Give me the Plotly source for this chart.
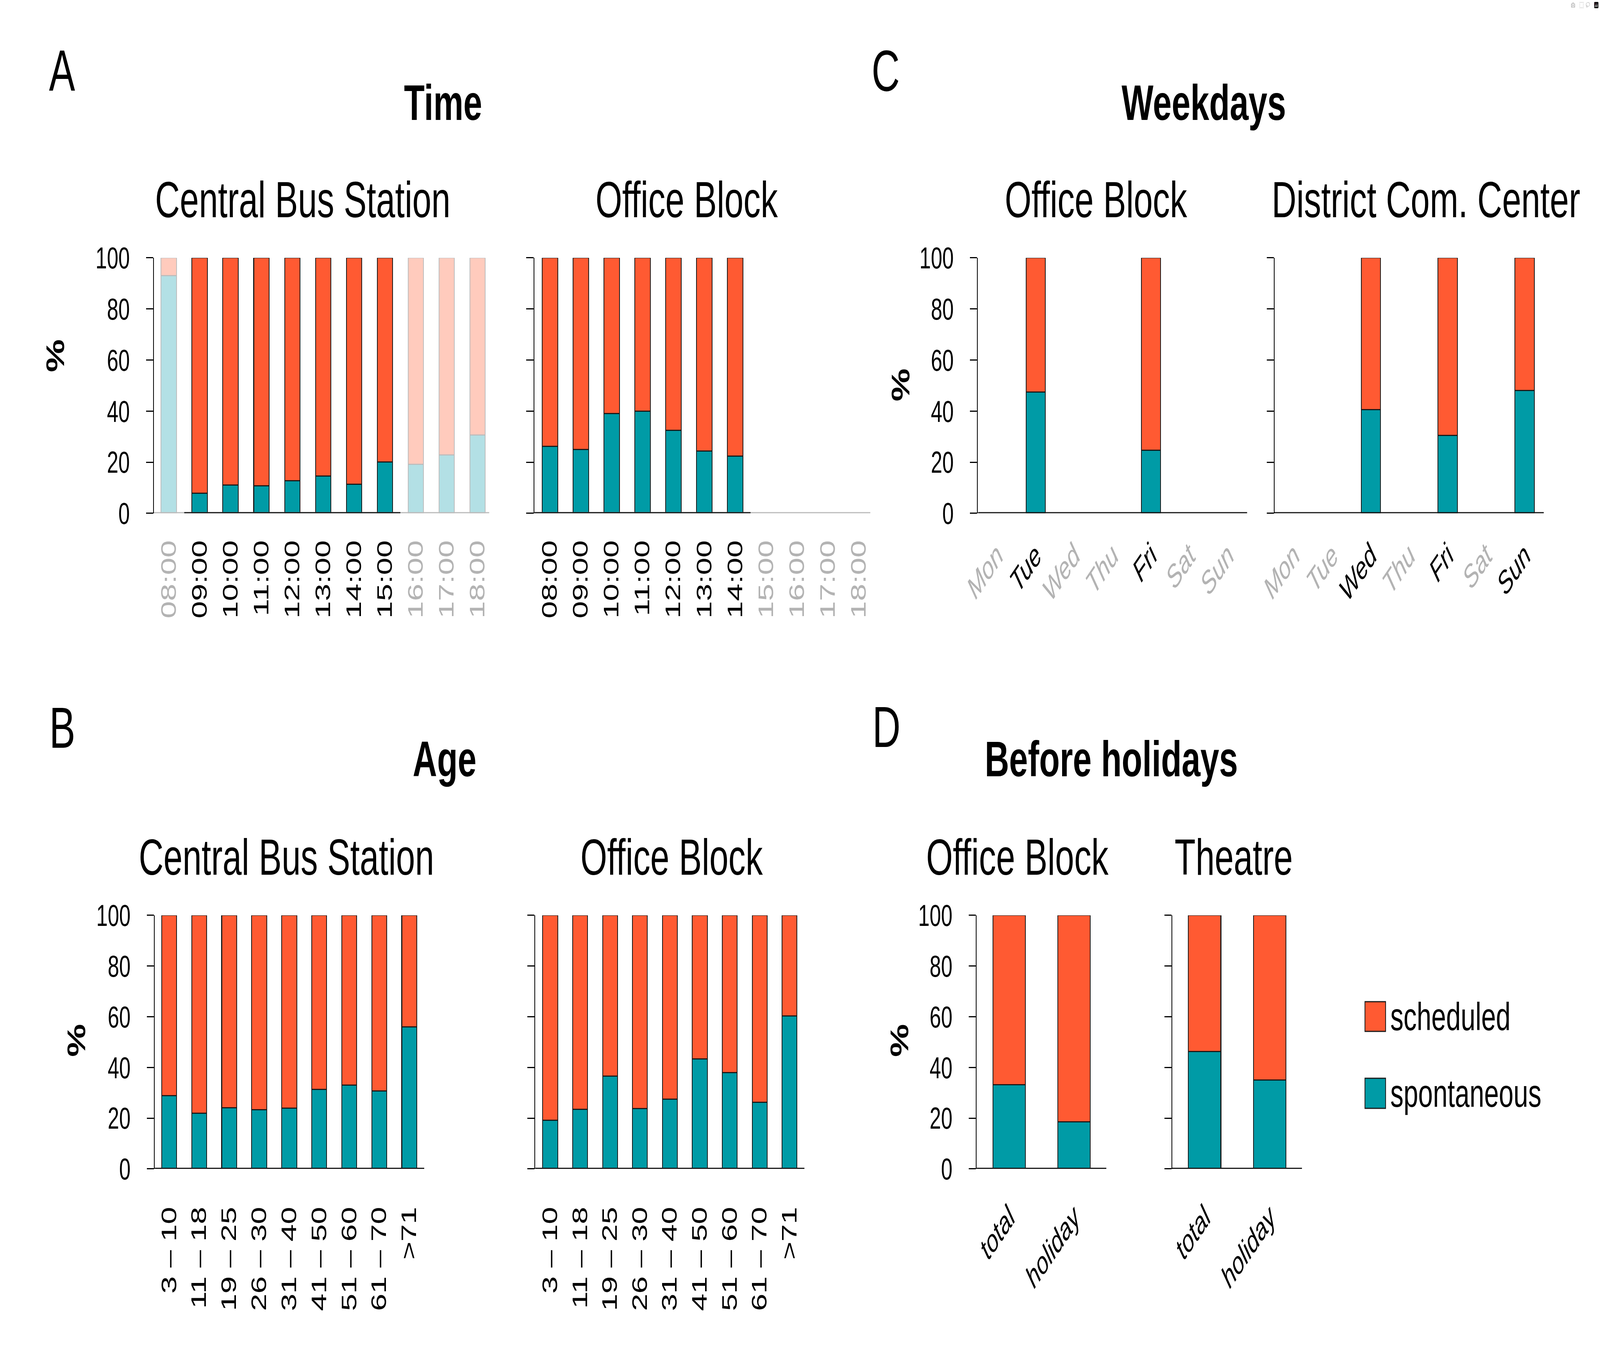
import plotly.graph_objects as go

W, H = 6067, 3453

# ---------------- data ----------------
TIME_LABELS = ["08:00", "09:00", "10:00", "11:00", "12:00", "13:00",
               "14:00", "15:00", "16:00", "17:00", "18:00"]
TIME_CBS_SPONT = [93.0, 7.8, 11.1, 10.7, 12.8, 14.5, 11.3, 20.1, 19.2, 22.8, 30.6]
TIME_CBS_ACTIVE = [False, True, True, True, True, True, True, True, False, False, False]
TIME_OB_SPONT = [26.2, 24.9, 39.0, 40.0, 32.4, 24.3, 22.3, None, None, None, None]
TIME_OB_ACTIVE = [True, True, True, True, True, True, True, False, False, False, False]

DAY_LABELS = ["Mon", "Tue", "Wed", "Thu", "Fri", "Sat", "Sun"]
DAY_OB_SPONT = [None, 47.4, None, None, 24.6, None, None]
DAY_DCC_SPONT = [None, None, 40.6, None, 30.5, None, 48.0]

AGE_LABELS = ["3 – 10", "11 – 18", "19 – 25", "26 – 30", "31 – 40",
              "41 – 50", "51 – 60", "61 – 70", ">71"]
AGE_CBS_SPONT = [28.8, 22.0, 24.1, 23.3, 23.9, 31.4, 33.1, 30.8, 56.0]
AGE_OB_SPONT = [19.1, 23.5, 36.6, 23.8, 27.5, 43.3, 37.9, 26.2, 60.3]

HOL_LABELS = ["total", "holiday"]
HOL_OB_SPONT = [33.2, 18.5]
HOL_TH_SPONT = [46.3, 35.0]

Y_TICKS = [0, 20, 40, 60, 80, 100]
SERIES_NAMES = ["scheduled", "spontaneous"]

# ---------------- style ----------------
ORANGE = "#FF5A32"
TEAL = "#009BA6"
ORANGE_FADED = "#FFCBBD"
TEAL_FADED = "#B3E0E5"
OUTLINE = "#1A1A1A"
OUTLINE_FADED = "#BDBDBD"
GRAY_TEXT = "#B3B3B3"
FONT = "Liberation Sans, Arial, Helvetica, sans-serif"

ROW1 = (632, 1303)   # pixel y of 100 and 0
ROW2 = (2359, 3025)


def active_from(values):
    return [v is not None for v in values]


panels = [
    dict(title="Central Bus Station", labels=TIME_LABELS, spont=TIME_CBS_SPONT,
         active=TIME_CBS_ACTIVE, xpx=(530, 1814), rng=(-0.48, 10.38), row=ROW1,
         tcx=1100, ylabels=True, angle=-90, italic=False, standoff=52, gray_base=True),
    dict(title="Office Block", labels=TIME_LABELS, spont=TIME_OB_SPONT,
         active=TIME_OB_ACTIVE, xpx=(1986, 3273), rng=(-0.51, 10.38), row=ROW1,
         tcx=2570, ylabels=False, angle=-90, italic=False, standoff=52, gray_base=True),
    dict(title="Office Block", labels=DAY_LABELS, spont=DAY_OB_SPONT,
         active=active_from(DAY_OB_SPONT), xpx=(3685, 4716), rng=(-0.5, 6.5), row=ROW1,
         tcx=4137, ylabels=True, angle=-45, italic=True, standoff=44, gray_base=False),
    dict(title="District Com. Center", labels=DAY_LABELS, spont=DAY_DCC_SPONT,
         active=active_from(DAY_DCC_SPONT), xpx=(4821, 5852), rng=(-0.5, 6.5), row=ROW1,
         tcx=5401, ylabels=False, angle=-45, italic=True, standoff=44, gray_base=False),
    dict(title="Central Bus Station", labels=AGE_LABELS, spont=AGE_CBS_SPONT,
         active=active_from(AGE_CBS_SPONT), xpx=(533, 1565), rng=(-0.48, 8.5), row=ROW2,
         tcx=1037, ylabels=True, angle=-90, italic=False, standoff=80, gray_base=False),
    dict(title="Office Block", labels=AGE_LABELS, spont=AGE_OB_SPONT,
         active=active_from(AGE_OB_SPONT), xpx=(1990, 3021), rng=(-0.5, 8.5), row=ROW2,
         tcx=2512, ylabels=False, angle=-90, italic=False, standoff=80, gray_base=False),
    dict(title="Office Block", labels=HOL_LABELS, spont=HOL_OB_SPONT,
         active=active_from(HOL_OB_SPONT), xpx=(3680, 4177), rng=(-0.5, 1.5), row=ROW2,
         tcx=3836, ylabels=True, angle=-45, italic=True, standoff=60, gray_base=False),
    dict(title="Theatre", labels=HOL_LABELS, spont=HOL_TH_SPONT,
         active=active_from(HOL_TH_SPONT), xpx=(4429, 4926), rng=(-0.5, 1.5), row=ROW2,
         tcx=4664, ylabels=False, angle=-45, italic=True, standoff=60, gray_base=False),
]


def px_x(x):
    return x / W


def px_y(y):
    return 1 - y / H


fig = go.Figure()
shapes = []
annotations = []

for i, p in enumerate(panels, start=1):
    xa = "x" if i == 1 else f"x{i}"
    ya = "y" if i == 1 else f"y{i}"
    labels = p["labels"]
    spont = p["spont"]
    sched = [None if v is None else round(100 - v, 1) for v in spont]
    act = p["active"]

    fig.add_trace(go.Bar(
        x=labels, y=spont, xaxis=xa, yaxis=ya, width=0.5, name=SERIES_NAMES[1],
        showlegend=False,
        marker=dict(color=[TEAL if a else TEAL_FADED for a in act],
                    line=dict(color=[OUTLINE if a else OUTLINE_FADED for a in act], width=3)),
    ))
    fig.add_trace(go.Bar(
        x=labels, y=sched, xaxis=xa, yaxis=ya, width=0.5, name=SERIES_NAMES[0],
        showlegend=False,
        marker=dict(color=[ORANGE if a else ORANGE_FADED for a in act],
                    line=dict(color=[OUTLINE if a else OUTLINE_FADED for a in act], width=3)),
    ))

    ticktext = []
    for lab, a in zip(labels, act):
        t = lab if not p["italic"] else f"<i>{lab}</i>"
        col = "#000000" if a else GRAY_TEXT
        if p["gray_base"] or p["italic"]:
            t = f"<span style='color:{col}'>{t}</span>"
        ticktext.append(t)

    y0px, y1px = p["row"][1], p["row"][0]
    fig.update_layout(**{
        ("xaxis" if i == 1 else f"xaxis{i}"): dict(
            domain=[px_x(p["xpx"][0]), px_x(p["xpx"][1])], anchor=ya,
            type="category", categoryorder="array", categoryarray=labels,
            range=list(p["rng"]), tickvals=labels, ticktext=ticktext,
            tickangle=p["angle"], ticks="", ticklen=0, showline=False,
            showgrid=False, zeroline=False, ticklabelstandoff=p["standoff"],
            tickfont=dict(family=FONT, size=80, color="#000000"), fixedrange=True),
        ("yaxis" if i == 1 else f"yaxis{i}"): dict(
            domain=[px_y(y0px), px_y(y1px)], anchor=xa, range=[0, 100],
            tickvals=Y_TICKS, showticklabels=p["ylabels"], ticks="outside",
            ticklen=27, tickwidth=3, tickcolor="#000000", showline=True,
            linecolor="#000000", linewidth=3, showgrid=False, zeroline=False,
            ticklabelstandoff=46, tickfont=dict(family=FONT, size=78, color="#000000"),
            fixedrange=True),
    })

    xref = xa
    yref = ya
    lo, hi = p["rng"]
    if p["gray_base"]:
        shapes.append(dict(type="line", xref=xref, yref=yref, x0=lo, x1=hi, y0=0, y1=0,
                           line=dict(color="#BDBDBD", width=6), layer="above"))
        idx = [k for k, a in enumerate(act) if a]
        a0 = max(lo, idx[0] - 0.5)
        a1 = idx[-1] + 0.5
        shapes.append(dict(type="line", xref=xref, yref=yref, x0=a0, x1=a1, y0=0, y1=0,
                           line=dict(color="#1A1A1A", width=6), layer="above"))
    else:
        shapes.append(dict(type="line", xref=xref, yref=yref, x0=lo, x1=hi, y0=0, y1=0,
                           line=dict(color="#1A1A1A", width=6), layer="above"))

    tcy = 479 if p["row"] == ROW1 else 2206
    annotations.append(dict(text=p["title"], x=px_x(p["tcx"]), y=px_y(tcy),
                            xref="paper", yref="paper", xanchor="center", yanchor="middle",
                            showarrow=False, font=dict(family=FONT, size=130, color="#000000")))

for txt, cx, cy in [("Time", 1637, 224), ("Weekdays", 4550, 224),
                    ("Age", 1643, 1948), ("Before holidays", 4196, 1948)]:
    annotations.append(dict(text=f"<b>{txt}</b>", x=px_x(cx), y=px_y(cy), xref="paper",
                            yref="paper", xanchor="center", yanchor="middle", showarrow=False,
                            font=dict(family=FONT, size=128, color="#000000")))

for txt, cx, cy in [("A", 178, 140), ("C", 3332, 141), ("B", 179, 1866), ("D", 3335, 1864)]:
    annotations.append(dict(text=txt, x=px_x(cx), y=px_y(cy), xref="paper", yref="paper",
                            xanchor="center", yanchor="middle", showarrow=False,
                            font=dict(family=FONT, size=148, color="#000000")))

for cx, cy in [(152, 890), (3389, 966), (234, 2688), (3385, 2688)]:
    annotations.append(dict(text="<b>%</b>", x=px_x(cx), y=px_y(cy), xref="paper", yref="paper",
                            xanchor="center", yanchor="middle", showarrow=False, textangle=-90,
                            font=dict(family=FONT, size=95, color="#000000")))

for name, col, (b0, b1) in [(SERIES_NAMES[0], ORANGE, (2586, 2664)),
                            (SERIES_NAMES[1], TEAL, (2787, 2866))]:
    shapes.append(dict(type="rect", xref="paper", yref="paper", x0=px_x(5167), x1=px_x(5246),
                       y0=px_y(b1), y1=px_y(b0), fillcolor=col,
                       line=dict(color="#1A1A1A", width=3)))
    annotations.append(dict(text=name, x=px_x(5262), y=px_y((b0 + b1) / 2), xref="paper",
                            yref="paper", xanchor="left", yanchor="middle", showarrow=False,
                            font=dict(family=FONT, size=100, color="#000000")))

fig.update_layout(
    width=W, height=H, margin=dict(l=0, r=0, t=0, b=0),
    paper_bgcolor="#FFFFFF", plot_bgcolor="rgba(0,0,0,0)",
    barmode="stack", bargap=0.5, showlegend=False,
    shapes=shapes, annotations=annotations,
    font=dict(family=FONT, color="#000000"),
)

# The browser window may be narrower than the requested 6067 px; map the
# 6067x3453 figure onto whatever viewport is available so nothing is cut off.
POST = """
(function(){
  var gd = document.getElementById('{plot_id}');
  var de = document.documentElement, b = document.body;
  de.style.margin = '0'; de.style.padding = '0'; de.style.overflow = 'hidden';
  b.style.margin = '0'; b.style.padding = '0'; b.style.overflow = 'hidden';
  b.style.background = '#FFFFFF';
  var sx = window.innerWidth / %d, sy = window.innerHeight / %d;
  var wrap = gd.parentElement;
  wrap.style.position = 'fixed';
  wrap.style.left = '0px';
  wrap.style.top = '0px';
  wrap.style.margin = '0';
  wrap.style.transformOrigin = '0 0';
  wrap.style.transform = 'scale(' + sx + ',' + sy + ')';
})();
""" % (W, H)

fig.write_html("out.html", post_script=POST)
